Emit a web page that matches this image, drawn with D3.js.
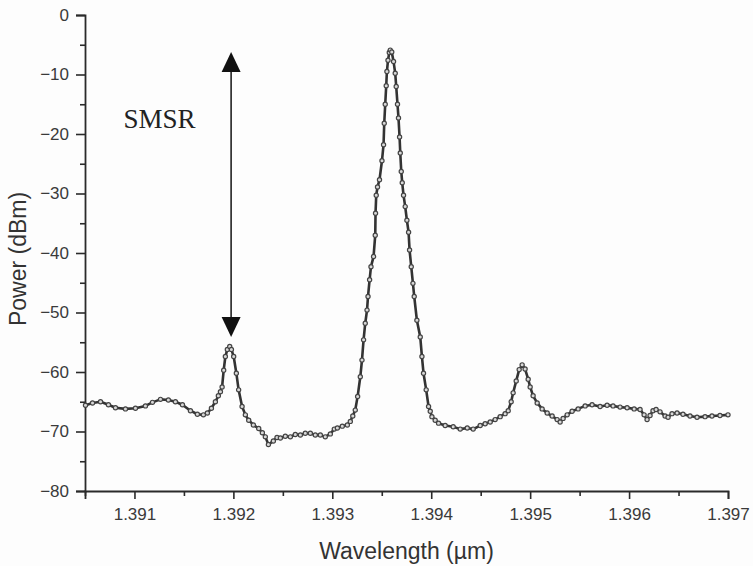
<!DOCTYPE html>
<html>
<head>
<meta charset="utf-8">
<script src="https://cdn.jsdelivr.net/npm/d3@7"></script>
<style>
  html, body { margin: 0; padding: 0; background: #fdfdfd; }
  svg { display: block; }
</style>
</head>
<body>
<svg id="chart" width="753" height="566"></svg>
<script>
// ---- data ----
const wavelength = [
  1.390505, 1.390576, 1.390657, 1.390737, 1.390808, 1.390909, 1.391010, 1.391111, 1.391182, 1.391263,
  1.391343, 1.391414, 1.391485, 1.391566, 1.391636, 1.391697, 1.391737, 1.391778, 1.391818, 1.391848,
  1.391869, 1.391886, 1.391902, 1.391919, 1.391939, 1.391963, 1.391980, 1.392003, 1.392030, 1.392053,
  1.392088, 1.392121, 1.392155, 1.392202, 1.392256, 1.392293, 1.392323, 1.392354, 1.392404, 1.392441,
  1.392475, 1.392525, 1.392576, 1.392626, 1.392677, 1.392727, 1.392778, 1.392828, 1.392879, 1.392929,
  1.392980, 1.393020, 1.393051, 1.393101, 1.393152, 1.393182, 1.393207, 1.393232, 1.393256, 1.393283,
  1.393300, 1.393316, 1.393333, 1.393351, 1.393361, 1.393377, 1.393391, 1.393417, 1.393434, 1.393437,
  1.393444, 1.393457, 1.393477, 1.393502, 1.393518, 1.393525, 1.393535, 1.393545, 1.393552, 1.393563,
  1.393576, 1.393586, 1.393601, 1.393619, 1.393636, 1.393646, 1.393659, 1.393669, 1.393680, 1.393687,
  1.393697, 1.393707, 1.393720, 1.393737, 1.393754, 1.393771, 1.393781, 1.393798, 1.393815, 1.393828,
  1.393855, 1.393889, 1.393906, 1.393922, 1.393949, 1.393973, 1.393990, 1.394007, 1.394040, 1.394074,
  1.394141, 1.394222, 1.394293, 1.394364, 1.394424, 1.394495, 1.394545, 1.394596, 1.394646, 1.394697,
  1.394747, 1.394778, 1.394808, 1.394828, 1.394859, 1.394889, 1.394919, 1.394949, 1.394980, 1.395000,
  1.395030, 1.395071, 1.395121, 1.395172, 1.395222, 1.395273, 1.395303, 1.395333, 1.395374, 1.395424,
  1.395485, 1.395556, 1.395626, 1.395707, 1.395778, 1.395838, 1.395909, 1.395980, 1.396051, 1.396111,
  1.396152, 1.396182, 1.396212, 1.396242, 1.396273, 1.396313, 1.396364, 1.396394, 1.396434, 1.396485,
  1.396545, 1.396616, 1.396687, 1.396768, 1.396838, 1.396919, 1.397000
];
const power = [
  -65.6, -65.2, -65.0, -65.5, -66.0, -66.2, -66.1, -65.7, -65.1, -64.6,
  -64.7, -65.0, -65.5, -66.5, -67.1, -67.2, -66.9, -66.1, -65.0, -64.0,
  -63.3, -62.5, -59.7, -57.4, -56.2, -55.7, -56.2, -57.4, -60.2, -63.0,
  -65.8, -67.2, -68.1, -68.9, -69.5, -70.2, -70.9, -72.2, -71.6, -71.0,
  -71.1, -70.8, -70.9, -70.5, -70.6, -70.3, -70.3, -70.6, -70.6, -70.9,
  -70.4, -69.6, -69.4, -69.1, -68.9, -68.3, -67.4, -66.4, -64.1, -60.8,
  -58.0, -54.6, -51.8, -49.6, -47.3, -44.5, -42.3, -40.6, -37.0, -33.3,
  -30.3, -28.9, -27.7, -24.5, -21.8, -18.2, -15.0, -11.9, -9.5, -7.6,
  -6.3, -5.9, -6.2, -7.8, -9.8, -12.0, -15.0, -17.3, -20.5, -23.2,
  -26.3, -28.2, -30.3, -32.2, -34.5, -36.5, -39.5, -42.3, -45.1, -47.3,
  -51.3, -54.1, -57.4, -60.2, -63.0, -65.8, -66.6, -67.5, -68.1, -68.6,
  -69.0, -69.2, -69.6, -69.4, -69.6, -69.0, -68.7, -68.4, -68.0, -67.5,
  -67.0, -66.5, -65.0, -63.5, -61.5, -59.6, -58.8, -59.5, -61.2, -62.5,
  -64.0, -65.2, -66.2, -66.9, -67.4, -68.0, -68.4, -67.8, -67.2, -66.6,
  -66.2, -65.7, -65.5, -65.8, -65.6, -65.7, -65.9, -66.0, -66.2, -66.3,
  -67.2, -68.0, -67.3, -66.5, -66.3, -66.7, -67.4, -67.6, -67.0, -66.9,
  -67.1, -67.4, -67.6, -67.5, -67.4, -67.3, -67.2
];
const xTicks = [1.391, 1.392, 1.393, 1.394, 1.395, 1.396, 1.397];
const xMinorTicks = [1.3905, 1.3915, 1.3925, 1.3935, 1.3945, 1.3955, 1.3965];
const yTicks = [0, -10, -20, -30, -40, -50, -60, -70, -80];
const yMinorTicks = [-5, -15, -25, -35, -45, -55, -65, -75];
const xDomain = [1.3905, 1.397];
const yDomain = [-80, 0];
const xTitle = "Wavelength (\u00b5m)";
const yTitle = "Power (dBm)";
// SMSR annotation: arrow between main peak and strongest side mode
const smsrLabel = "SMSR";
const smsrWavelength = [1.391977];
const smsrLevels = [-6.2, -54.1];
const smsrLabelPos = [1.390889, -19.0];

// ---- layout ----
const W = 753, H = 566;
const margin = {left: 85, right: 25, top: 15, bottom: 75};
const svg = d3.select("#chart");
svg.append("rect").attr("width", W).attr("height", H).attr("fill", "#fdfdfd");

const x = d3.scaleLinear().domain(xDomain).range([margin.left, W - margin.right]);
const y = d3.scaleLinear().domain(yDomain).range([H - margin.bottom, margin.top]);

const axisColor = "#2a2a2a";
const font = "'Liberation Sans', Arial, Helvetica, sans-serif";

// x axis
const gx = svg.append("g").attr("transform", `translate(0,${H - margin.bottom})`);
gx.call(d3.axisBottom(x).tickValues(xTicks).tickFormat(d3.format(".3f")).tickSize(8).tickPadding(9));
const gxm = svg.append("g").attr("transform", `translate(0,${H - margin.bottom})`);
gxm.call(d3.axisBottom(x).tickValues(xMinorTicks).tickFormat("").tickSize(5));
gxm.select(".domain").remove();

// y axis
const gy = svg.append("g").attr("transform", `translate(${margin.left},0)`);
gy.call(d3.axisLeft(y).tickValues(yTicks).tickFormat(d3.format("d")).tickSize(9).tickPadding(7));
const gym = svg.append("g").attr("transform", `translate(${margin.left},0)`);
gym.call(d3.axisLeft(y).tickValues(yMinorTicks).tickFormat("").tickSize(5));
gym.select(".domain").remove();

svg.selectAll(".domain").attr("stroke", axisColor).attr("stroke-width", 1.8);
svg.selectAll(".tick line").attr("stroke", axisColor).attr("stroke-width", 1.6);
svg.selectAll(".tick text").attr("fill", "#3a3a3a").attr("font-family", font).attr("font-size", 17);

// axis titles
svg.append("text")
  .attr("x", (margin.left + W - margin.right) / 2)
  .attr("y", 559)
  .attr("text-anchor", "middle")
  .attr("font-family", font).attr("font-size", 23).attr("fill", "#333")
  .text(xTitle);
svg.append("text")
  .attr("transform", `translate(26,${(margin.top + H - margin.bottom) / 2 + 6}) rotate(-90)`)
  .attr("text-anchor", "middle")
  .attr("font-family", font).attr("font-size", 23).attr("fill", "#333")
  .text(yTitle);

// spectrum
const pts = wavelength.map((w, i) => [w, power[i]]);
svg.append("path")
  .datum(pts)
  .attr("fill", "none")
  .attr("stroke", "#333")
  .attr("stroke-width", 2.6)
  .attr("stroke-linejoin", "round")
  .attr("d", d3.line().x(d => x(d[0])).y(d => y(d[1])));
svg.append("g").selectAll("circle")
  .data(pts).join("circle")
  .attr("cx", d => x(d[0])).attr("cy", d => y(d[1]))
  .attr("r", 2.1)
  .attr("fill", "#d8d8d8")
  .attr("stroke", "#444")
  .attr("stroke-width", 1.2);

// SMSR arrow
const ax = x(smsrWavelength[0]);
const yTop = y(smsrLevels[0]), yBot = y(smsrLevels[1]);
const headL = 20, headW = 9.5;
svg.append("line")
  .attr("x1", ax).attr("x2", ax)
  .attr("y1", yTop + headL - 2).attr("y2", yBot - headL + 2)
  .attr("stroke", "#222").attr("stroke-width", 1.6);
svg.append("path")
  .attr("d", `M${ax},${yTop} L${ax - headW},${yTop + headL} L${ax + headW},${yTop + headL} Z`)
  .attr("fill", "#111");
svg.append("path")
  .attr("d", `M${ax},${yBot} L${ax - headW},${yBot - headL} L${ax + headW},${yBot - headL} Z`)
  .attr("fill", "#111");
svg.append("text")
  .attr("x", x(smsrLabelPos[0])).attr("y", y(smsrLabelPos[1]))
  .attr("font-family", "'Liberation Serif', 'Times New Roman', serif")
  .attr("font-size", 27).attr("fill", "#222")
  .text(smsrLabel);
</script>
</body>
</html>
